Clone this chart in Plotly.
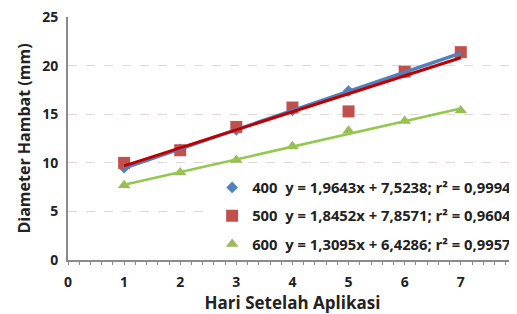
import numpy as np
import plotly.graph_objects as go

hari = [1, 2, 3, 4, 5, 6, 7]
d400 = [9.5, 11.4, 13.4, 15.4, 17.4, 19.3, 21.3]
d500 = [10.0, 11.3, 13.7, 15.7, 15.3, 19.4, 21.4]
d600 = [7.7, 9.0, 10.3, 11.7, 13.3, 14.3, 15.4]
labels = ["400  y = 1,9643x + 7,5238; r² = 0,9994",
          "500  y = 1,8452x + 7,8571; r² = 0,9604",
          "600  y = 1,3095x + 6,4286; r² = 0,9957"]
xticks = [0, 1, 2, 3, 4, 5, 6, 7, 8]
yticks = [0, 5, 10, 15, 20, 25]

FONT = "Open Sans"
fig = go.Figure()

series = [
    (d400, labels[0], "diamond", 9, "#4F81BD", "#4F81BD", 3.5),
    (d500, labels[1], "square", 12, "#C0504D", "#C00000", 3),
    (d600, labels[2], "triangle-up", 11, "#9BBB59", "#92C84C", 2.5),
]
for i, (ys, name, sym, sz, mc, lc, lw) in enumerate(series):
    fig.add_trace(go.Scatter(x=hari, y=ys, mode="markers", name=name,
                             legendgroup=f"g{i}",
                             marker=dict(symbol=sym, size=sz, color=mc)))
for i, (ys, name, sym, sz, mc, lc, lw) in enumerate(series):
    k, b = np.polyfit(hari, ys, 1)
    xs = np.array([hari[0], hari[-1]])
    fig.add_trace(go.Scatter(x=xs, y=k * xs + b, mode="lines", showlegend=False,
                             line=dict(color=lc, width=lw), hoverinfo="skip"))

fig.update_layout(
    width=509, height=306,
    margin=dict(l=60, r=0, t=9, b=54),
    paper_bgcolor="white", plot_bgcolor="white",
    font=dict(family=FONT, color="#222"),
    showlegend=True,
    legend=dict(x=0.321, y=0.365, xanchor="left", yanchor="top",
                bgcolor="rgba(255,255,255,1)", tracegroupgap=6,
                font=dict(family=FONT, size=14.8, color="#222", weight="bold"),
                itemwidth=30),
    xaxis=dict(range=[0, 8.002], tickvals=xticks, showgrid=False,
               automargin=False, ticklabeloverflow="allow",
               showline=True, linecolor="#8a8a8a", linewidth=2,
               ticks="outside", ticklen=3, tickcolor="#8a8a8a",
               minor=dict(dtick=0.2, ticks="outside", ticklen=3, tickcolor="#8a8a8a"),
               tickfont=dict(size=14, weight="bold", family=FONT),
               ticklabelstandoff=5,
               title=dict(text="Hari Setelah Aplikasi", standoff=9,
                          font=dict(size=17, weight="bold", family=FONT)),
               zeroline=False),
    yaxis=dict(range=[0, 25.02], tickvals=yticks, showgrid=True, gridcolor="#E3D6D6",
               griddash="dash", gridwidth=1, automargin=False,
               ticklabeloverflow="allow",
               showline=True, linecolor="#8a8a8a", linewidth=2, ticks="",
               tickfont=dict(size=14, weight="bold", family=FONT),
               ticklabelstandoff=5,
               title=dict(text="Diameter Hambat (mm)", standoff=8,
                          font=dict(size=16, weight="bold", family=FONT)),
               zeroline=False),
)
fig.write_html("out.html")
